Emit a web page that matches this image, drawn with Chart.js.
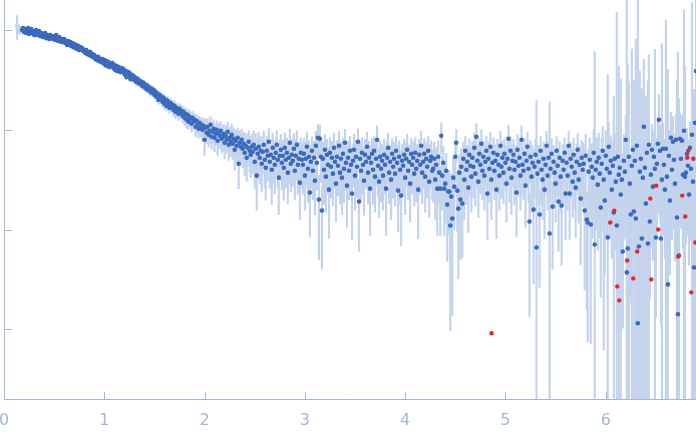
<!DOCTYPE html>
<html>
<head>
<meta charset="utf-8">
<script src="https://cdn.jsdelivr.net/npm/chart.js@4.4.1/dist/chart.umd.min.js"></script>
<style>
html,body{margin:0;padding:0;background:#fff;}
#wrap{width:696px;height:437px;}
</style>
</head>
<body>
<div id="wrap"><canvas id="c" width="696" height="437"></canvas></div>
<script>
// scattering vector q
const q = [
0.18,0.19,0.20,0.21,0.22,0.23,0.24,0.25,0.26,0.27,
0.28,0.29,0.30,0.31,0.32,0.33,0.34,0.35,0.36,0.37,
0.38,0.39,0.40,0.41,0.42,0.43,0.44,0.45,0.46,0.47,
0.48,0.49,0.50,0.51,0.52,0.53,0.54,0.55,0.56,0.57,
0.58,0.59,0.60,0.61,0.62,0.63,0.64,0.65,0.66,0.67,
0.68,0.69,0.70,0.71,0.72,0.73,0.74,0.75,0.76,0.77,
0.78,0.79,0.80,0.81,0.82,0.83,0.84,0.85,0.86,0.87,
0.88,0.89,0.90,0.91,0.92,0.93,0.94,0.95,0.96,0.97,
0.98,0.99,1.00,1.01,1.02,1.03,1.04,1.05,1.06,1.07,
1.08,1.09,1.10,1.11,1.12,1.13,1.14,1.15,1.16,1.17,
1.18,1.19,1.20,1.21,1.22,1.23,1.24,1.25,1.26,1.27,
1.28,1.29,1.30,1.31,1.32,1.33,1.34,1.35,1.36,1.37,
1.38,1.39,1.40,1.41,1.42,1.43,1.44,1.45,1.46,1.47,
1.48,1.49,1.50,1.51,1.52,1.53,1.54,1.55,1.56,1.57,
1.58,1.59,1.60,1.61,1.62,1.63,1.64,1.65,1.66,1.67,
1.68,1.69,1.70,1.71,1.72,1.73,1.74,1.75,1.76,1.77,
1.78,1.79,1.80,1.81,1.82,1.83,1.84,1.85,1.86,1.87,
1.88,1.89,1.90,1.91,1.92,1.93,1.94,1.95,1.96,1.97,
1.98,1.99,2.00,2.01,2.02,2.03,2.04,2.05,2.06,2.07,
2.08,2.09,2.10,2.11,2.12,2.13,2.14,2.15,2.16,2.17,
2.18,2.19,2.20,2.21,2.22,2.23,2.24,2.25,2.26,2.27,
2.28,2.29,2.30,2.31,2.32,2.33,2.34,2.35,2.36,2.37,
2.38,2.39,2.40,2.41,2.42,2.43,2.44,2.45,2.46,2.47,
2.48,2.49,2.50,2.51,2.52,2.53,2.54,2.55,2.56,2.57,
2.58,2.59,2.60,2.61,2.62,2.63,2.64,2.65,2.66,2.67,
2.68,2.69,2.70,2.71,2.72,2.73,2.74,2.75,2.76,2.77,
2.78,2.79,2.80,2.81,2.82,2.83,2.84,2.85,2.86,2.87,
2.88,2.89,2.90,2.91,2.92,2.93,2.94,2.95,2.96,2.97,
2.98,2.99,3.00,3.01,3.02,3.03,3.04,3.05,3.06,3.07,
3.08,3.09,3.10,3.11,3.12,3.13,3.14,3.15,3.16,3.17,
3.18,3.19,3.20,3.21,3.22,3.23,3.24,3.25,3.26,3.27,
3.28,3.29,3.30,3.31,3.32,3.33,3.34,3.35,3.36,3.37,
3.38,3.39,3.40,3.41,3.42,3.43,3.44,3.45,3.46,3.47,
3.48,3.49,3.50,3.51,3.52,3.53,3.54,3.55,3.56,3.57,
3.58,3.59,3.60,3.61,3.62,3.63,3.64,3.65,3.66,3.67,
3.68,3.69,3.70,3.71,3.72,3.73,3.74,3.75,3.76,3.77,
3.78,3.79,3.80,3.81,3.82,3.83,3.84,3.85,3.86,3.87,
3.88,3.89,3.90,3.91,3.92,3.93,3.94,3.95,3.96,3.97,
3.98,3.99,4.00,4.01,4.02,4.03,4.04,4.05,4.06,4.07,
4.08,4.09,4.10,4.11,4.12,4.13,4.14,4.15,4.16,4.17,
4.18,4.19,4.20,4.21,4.22,4.23,4.24,4.25,4.26,4.27,
4.28,4.29,4.30,4.31,4.32,4.33,4.34,4.35,4.36,4.37,
4.38,4.39,4.40,4.41,4.42,4.43,4.44,4.45,4.46,4.47,
4.48,4.49,4.50,4.51,4.52,4.53,4.54,4.55,4.56,4.57,
4.58,4.59,4.60,4.61,4.62,4.63,4.64,4.65,4.66,4.67,
4.68,4.69,4.70,4.71,4.72,4.73,4.74,4.75,4.76,4.77,
4.78,4.79,4.80,4.81,4.82,4.83,4.84,4.85,4.86,4.87,
4.88,4.89,4.90,4.91,4.92,4.93,4.94,4.95,4.96,4.97,
4.98,4.99,5.00,5.01,5.02,5.03,5.04,5.05,5.06,5.07,
5.08,5.09,5.10,5.11,5.12,5.13,5.14,5.15,5.16,5.17,
5.18,5.19,5.20,5.21,5.22,5.23,5.24,5.25,5.26,5.27,
5.28,5.29,5.30,5.31,5.32,5.33,5.34,5.35,5.36,5.37,
5.38,5.39,5.40,5.41,5.42,5.43,5.44,5.45,5.46,5.47,
5.48,5.49,5.50,5.51,5.52,5.53,5.54,5.55,5.56,5.57,
5.58,5.59,5.60,5.61,5.62,5.63,5.64,5.65,5.66,5.67,
5.68,5.69,5.70,5.71,5.72,5.73,5.74,5.75,5.76,5.77,
5.78,5.79,5.80,5.81,5.82,5.83,5.84,5.85,5.86,5.87,
5.88,5.89,5.90,5.91,5.92,5.93,5.94,5.95,5.96,5.97,
5.98,5.99,6.00,6.01,6.02,6.03,6.04,6.05,6.06,6.07,
6.08,6.09,6.10,6.11,6.12,6.13,6.14,6.15,6.16,6.17,
6.18,6.19,6.20,6.21,6.22,6.23,6.24,6.25,6.26,6.27,
6.28,6.29,6.30,6.31,6.32,6.33,6.34,6.35,6.36,6.37,
6.38,6.39,6.40,6.41,6.42,6.43,6.44,6.45,6.46,6.47,
6.48,6.49,6.50,6.51,6.52,6.53,6.54,6.55,6.56,6.57,
6.58,6.59,6.60,6.61,6.62,6.63,6.64,6.65,6.66,6.67,
6.68,6.69,6.70,6.71,6.72,6.73,6.74,6.75,6.76,6.77,
6.78,6.79,6.80,6.81,6.82,6.83,6.84,6.85,6.86,6.87,
6.88,6.89,6.90
];

// log10 of scattered intensity
const logIntensity = [
2.00,2.02,1.98,2.01,1.97,2.00,2.02,1.96,1.99,2.01,
1.97,1.99,1.95,1.98,2.00,1.95,1.97,1.99,1.94,1.97,
1.96,1.93,1.95,1.97,1.92,1.95,1.93,1.91,1.95,1.92,
1.94,1.91,1.93,1.90,1.95,1.92,1.89,1.93,1.91,1.88,
1.91,1.88,1.91,1.87,1.89,1.85,1.89,1.86,1.88,1.84,
1.87,1.83,1.86,1.82,1.85,1.81,1.84,1.80,1.83,1.81,
1.82,1.79,1.80,1.77,1.80,1.76,1.78,1.75,1.78,1.74,
1.76,1.73,1.75,1.71,1.73,1.70,1.73,1.69,1.71,1.68,
1.71,1.67,1.70,1.65,1.69,1.64,1.68,1.63,1.66,1.65,
1.67,1.62,1.65,1.60,1.64,1.59,1.63,1.61,1.58,1.62,
1.59,1.61,1.56,1.59,1.53,1.58,1.54,1.57,1.51,1.55,
1.51,1.54,1.50,1.52,1.48,1.51,1.47,1.49,1.46,1.48,
1.44,1.47,1.43,1.45,1.41,1.44,1.40,1.42,1.38,1.41,
1.37,1.40,1.35,1.38,1.33,1.36,1.30,1.35,1.31,1.33,
1.28,1.32,1.26,1.30,1.24,1.29,1.25,1.22,1.27,1.23,
1.25,1.20,1.24,1.18,1.22,1.19,1.16,1.21,1.17,1.19,
1.14,1.18,1.12,1.16,1.10,1.15,1.08,1.13,1.11,1.06,
1.12,1.08,1.10,1.03,1.09,1.05,1.01,1.07,1.02,1.05,
1.00,1.04,0.90,1.02,0.97,1.03,0.95,0.99,1.05,0.93,
0.98,1.01,0.92,0.96,1.00,0.89,0.97,0.94,0.99,0.91,
0.93,0.96,0.87,0.94,0.90,0.98,0.85,0.92,0.88,0.95,
0.86,0.91,0.80,0.89,0.84,0.92,0.66,0.87,0.83,0.90,
0.81,0.86,0.77,0.84,0.72,0.82,0.88,0.79,0.75,0.83,
0.78,0.85,0.68,0.81,0.54,0.76,0.83,0.72,0.79,0.66,
0.78,0.85,0.70,0.62,0.79,0.74,0.88,0.68,0.75,0.60,
0.82,0.72,0.65,0.77,0.85,0.70,0.52,0.74,0.80,0.67,
0.74,0.62,0.82,0.70,0.77,0.57,0.72,0.87,0.66,0.75,
0.69,0.81,0.59,0.74,0.85,0.65,0.71,0.47,0.77,0.70,
0.65,0.76,0.54,0.71,0.83,0.61,0.73,0.37,0.68,0.79,
0.59,0.72,0.49,0.84,0.67,0.92,0.30,0.91,0.73,0.19,
0.71,0.60,0.80,0.53,0.75,0.65,0.40,0.77,0.63,0.72,
0.56,0.82,0.68,0.46,0.73,0.64,0.84,0.57,0.71,0.52,
0.76,0.61,0.87,0.67,0.44,0.72,0.59,0.79,0.65,0.36,
0.69,0.80,0.54,0.73,0.63,0.88,0.28,0.71,0.59,0.77,
0.65,0.49,0.75,0.68,0.83,0.57,0.72,0.41,0.67,0.76,
0.60,0.79,0.53,0.71,0.90,0.64,0.48,0.73,0.61,0.69,
0.54,0.75,0.65,0.41,0.72,0.82,0.57,0.68,0.50,0.76,
0.63,0.71,0.56,0.79,0.67,0.39,0.73,0.60,0.34,0.69,
0.64,0.75,0.52,0.71,0.80,0.59,0.68,0.46,0.76,0.65,
0.72,0.56,0.77,0.61,0.69,0.40,0.75,0.65,0.84,0.57,
0.68,0.76,0.53,0.71,0.63,0.79,0.48,0.69,0.73,0.59,
0.61,0.71,0.50,0.65,0.41,0.73,0.57,0.41,0.94,0.54,
0.67,0.41,0.46,0.59,0.25,0.38,0.38,0.04,0.33,0.11,
0.52,0.43,0.73,0.87,0.39,0.21,0.57,0.30,0.63,0.26,
0.71,0.50,0.79,0.60,0.68,0.42,0.75,0.64,0.53,0.72,
0.63,0.82,0.56,0.93,0.69,0.48,0.76,0.65,0.86,0.59,
0.73,0.54,0.68,0.79,0.36,0.71,0.61,0.83,0.50,0.67,
0.77,0.59,0.69,0.40,0.75,0.65,0.54,0.84,0.63,0.72,
0.57,0.76,0.67,0.46,0.71,0.91,0.61,0.79,0.52,0.69,
0.75,0.60,0.68,0.37,0.80,0.64,0.72,0.54,0.90,0.65,
0.59,0.76,0.44,0.69,0.83,0.61,0.08,0.73,0.53,0.67,
0.20,0.63,0.75,-0.18,0.56,0.68,0.15,0.79,0.60,0.50,
0.71,0.40,0.65,0.84,0.54,0.72,-0.04,0.61,0.76,0.23,
0.68,0.57,0.46,0.79,0.64,0.28,0.72,0.53,0.24,0.69,
0.60,0.77,0.36,0.67,0.54,0.84,0.36,0.71,0.63,0.48,
0.75,0.57,0.42,0.68,0.80,0.50,0.65,0.31,0.72,0.60,
0.66,0.19,0.74,0.10,0.07,0.58,0.70,0.05,0.63,0.52,
0.77,-0.15,0.60,0.68,0.45,0.72,0.56,0.22,0.66,0.79,
0.50,0.29,0.74,0.61,-0.08,0.83,0.57,0.69,0.40,0.64,
0.17,0.71,0.48,0.04,0.73,0.55,0.62,0.35,0.50,-0.22,
0.69,0.58,0.90,-0.43,-0.19,0.73,0.46,0.15,0.64,0.80,
0.18,0.69,0.11,0.84,-0.94,-0.17,0.58,0.71,-0.09,0.52,
1.03,0.62,0.26,0.77,-0.14,0.85,0.08,0.55,0.80,0.43,
0.73,0.61,-0.08,0.66,0.86,1.10,0.79,-0.09,0.50,0.81,
0.65,0.40,0.81,0.53,-0.55,0.74,0.29,0.92,0.60,0.88,
0.70,0.46,0.90,0.12,-0.85,-0.26,0.91,0.71,0.89,0.55,
0.99,0.53,0.57,0.76,0.64,0.35,0.82,0.61,0.95,0.48,
-0.38,1.07,1.59
];

// absolute intensity uncertainty of every point
const sigma = [
4.2,3.9,4.1,4.0,3.8,4.1,4.0,3.9,4.2,4.0,
4.0,4.1,3.9,4.2,4.0,3.8,4.1,4.0,3.9,4.1,
3.9,4.0,4.2,3.9,4.1,4.0,3.8,4.0,4.1,3.9,
3.1,2.9,3.0,3.2,2.8,3.0,3.1,2.9,3.0,3.0,
2.9,3.1,3.0,2.8,3.2,3.0,2.9,3.1,3.0,2.9,
3.0,3.2,2.9,3.0,3.1,2.8,3.0,3.1,2.9,3.0,
3.1,2.9,3.0,3.0,2.8,3.1,3.0,2.9,3.2,3.0,
2.9,3.0,3.1,2.9,3.0,3.0,2.8,3.1,3.0,2.9,
2.3,2.1,2.2,2.4,2.0,2.2,2.3,2.1,2.2,2.2,
2.2,2.3,2.1,2.2,2.4,2.2,2.0,2.3,2.2,2.1,
2.1,2.2,2.3,2.0,2.2,2.4,2.1,2.2,2.3,2.2,
2.3,2.2,2.1,2.2,2.3,2.0,2.2,2.4,2.1,2.2,
2.2,2.0,2.3,2.2,2.1,2.2,2.4,2.2,2.1,2.3,
2.0,2.1,1.9,2.0,2.2,1.9,2.0,2.1,1.9,2.0,
2.1,2.0,2.2,1.9,2.0,2.1,2.0,1.9,2.2,2.0,
1.9,2.1,2.0,2.2,1.9,2.0,2.1,2.0,1.9,2.1,
2.0,1.9,2.1,2.0,2.2,2.0,1.9,2.1,2.0,2.0,
2.1,2.0,1.9,2.2,2.0,2.1,2.0,1.9,2.1,2.0,
2.3,2.2,2.4,2.3,2.1,2.3,2.2,2.4,2.3,2.1,
2.2,2.4,2.3,2.1,2.3,2.2,2.4,2.2,2.3,2.3,
2.4,2.2,2.3,2.3,2.1,2.4,2.2,2.3,2.2,2.4,
2.2,2.3,2.4,2.2,2.3,2.1,2.0,2.3,2.4,2.2,
2.3,2.2,2.4,2.3,2.2,2.3,2.2,2.4,2.3,2.2,
2.4,2.7,2.2,2.7,1.9,2.4,2.7,2.4,2.4,2.2,
2.4,2.7,2.4,2.2,2.4,2.4,2.7,2.2,2.4,2.2,
2.7,2.4,2.2,2.4,2.7,2.4,1.9,2.4,2.7,2.2,
2.4,2.2,2.7,2.4,2.4,1.9,2.4,2.7,2.2,2.4,
2.2,2.7,1.9,2.4,2.7,2.2,2.4,1.7,2.4,2.4,
2.2,2.4,1.9,2.4,2.7,2.2,2.4,1.5,2.2,2.4,
1.9,2.4,1.7,2.7,2.2,3.0,1.5,3.0,2.4,1.15,
2.4,2.2,2.7,1.9,2.4,2.2,1.7,2.4,2.2,2.4,
1.9,2.7,2.2,1.7,2.4,2.2,2.7,1.9,2.4,1.9,
2.4,2.2,2.7,2.2,1.7,2.4,1.9,2.4,2.2,1.5,
2.2,2.7,1.9,2.4,2.2,2.7,1.3,2.4,1.9,2.4,
2.2,1.7,2.4,2.2,2.7,1.9,2.4,1.7,2.2,2.4,
2.2,2.4,1.9,2.4,3.0,2.2,1.7,2.4,2.2,2.2,
1.9,2.4,2.2,1.7,2.4,2.7,1.9,2.2,1.9,2.4,
2.2,2.4,1.9,2.4,2.2,1.5,2.4,2.2,1.5,2.2,
2.2,2.4,1.9,2.4,2.7,1.9,2.2,1.7,2.4,2.2,
2.4,1.9,2.4,2.2,2.2,1.7,2.4,2.2,2.7,1.9,
2.2,2.4,1.9,2.4,2.2,2.4,1.7,2.2,2.4,1.9,
2.2,2.4,1.9,2.2,1.7,2.4,1.9,1.7,3.0,1.9,
2.2,1.7,1.7,1.9,1.3,1.5,1.5,1.0,1.5,1.15,
1.9,1.7,2.4,2.7,1.5,1.3,1.9,1.5,2.2,1.3,
2.4,1.9,2.4,2.2,2.2,1.7,2.4,2.2,1.9,2.4,
2.2,2.7,1.9,3.0,2.2,1.7,2.4,2.2,2.7,1.9,
2.4,1.9,2.2,2.4,1.5,2.4,2.2,2.7,1.9,2.2,
2.4,1.9,2.2,1.7,2.4,2.2,1.9,2.7,2.2,2.4,
1.9,2.4,2.2,1.7,2.4,3.0,2.2,2.4,1.9,2.2,
2.4,2.2,2.2,1.5,2.7,2.2,2.4,1.9,3.0,2.2,
1.9,2.4,1.7,2.2,2.7,2.2,1.07,2.4,1.9,2.2,
1.3,2.2,2.4,19,1.9,2.2,1.15,2.4,2.2,1.9,
2.4,1.7,2.2,2.7,1.9,2.4,18,2.2,2.4,1.3,
2.2,1.9,1.7,2.4,2.2,1.3,2.4,1.9,1.3,2.2,
2.2,2.4,1.5,2.2,1.9,2.7,1.5,2.4,2.2,1.7,
2.6,2.1,1.8,2.4,2.8,2.0,2.4,1.6,2.6,2.3,
2.8,1.3,3.5,1.1,1.1,2.6,3.3,1.05,3.0,2.5,
4.0,60,3.0,3.6,2.2,4.0,2.8,1.45,3.6,4.6,
3.1,1.6,4.2,3.2,35,5.0,2.9,3.8,2.0,3.4,
20,4.0,2.4,150,4.3,40,3.3,30,2.6,0.5,
4.0,3.0,6.0,200,45,25,2.7,1.2,60,5.0,
30,3.9,80,5.5,200,0.55,35,4.0,25,2.7,
40,3.4,20,4.6,30,50,1.0,2.9,5.0,2.2,
4.3,60,0.7,3.7,5.8,10,4.9,0.7,70,5.2,
3.6,2.0,120,2.8,40,4.4,1.6,6.6,3.2,6.0,
4.0,2.4,6.3,30,60,20,6.5,4.1,6.2,2.9,
150,40,3.0,4.6,3.5,1.8,5.3,3.3,180,2.4,
25,9,200
];

// low-q points excluded from the fit (drawn faintly)
const maskedQ = [0.13,0.14,0.15,0.16,0.17];
const maskedLogIntensity = [2.04,2.00,2.01,1.99,2.01];
const maskedSigma = [30,9,8,7,6];

// outlier points (red)
const outlierQ = [4.862,6.045,6.085,6.115,6.135,6.214,6.274,6.314,6.444,6.454,6.503,6.523,6.723,6.763,6.793,6.813,6.823,6.853,6.873,6.893];
const outlierLogIntensity = [-1.04,0.07,0.19,-0.57,-0.71,-0.31,-0.49,-0.22,0.31,-0.50,0.44,0.00,-0.27,0.34,0.13,0.72,0.79,-0.63,0.71,-0.13];

const xTicks = [0,1,2,3,4,5,6];
const yTicks = [0.1,1,10,100];

const AXIS = '#a2b5e0';
const BAR = '#c4d3ec';
const DOT = '#3b6abd';
const RED = '#e8262b';

const toI = v => Math.pow(10, v);
const FLOOR = 1e-4;

const pts = q.map((x,i)=>({x:x, y:toI(logIntensity[i])}));
const bars = q.map((x,i)=>{const I=toI(logIntensity[i]); return {x:x, y:[Math.max(I-sigma[i],FLOOR), I+sigma[i]]};});
const mPts = maskedQ.map((x,i)=>({x:x, y:toI(maskedLogIntensity[i])}));
const mBars = maskedQ.map((x,i)=>{const I=toI(maskedLogIntensity[i]); return {x:x, y:[Math.max(I-maskedSigma[i],FLOOR), I+maskedSigma[i]]};});
const oPts = outlierQ.map((x,i)=>({x:x, y:toI(outlierLogIntensity[i])}));

const innerTicks = {
  id:'innerTicks',
  afterDraw(chart){
    const {ctx, chartArea, scales} = chart;
    const xs = scales.x, ys = scales.y;
    ctx.save();
    ctx.strokeStyle = AXIS;
    ctx.lineWidth = 1;
    xs.ticks.forEach(t=>{
      const px = Math.round(xs.getPixelForValue(t.value))+0.5;
      ctx.beginPath(); ctx.moveTo(px, chartArea.bottom); ctx.lineTo(px, chartArea.bottom-7); ctx.stroke();
    });
    ys.ticks.forEach(t=>{
      const py = Math.round(ys.getPixelForValue(t.value))+0.5;
      ctx.beginPath(); ctx.moveTo(chartArea.left, py); ctx.lineTo(chartArea.left+8, py); ctx.stroke();
    });
    ctx.restore();
  }
};

function noPad(s){ s.paddingLeft=0; s.paddingRight=0; s.paddingTop=0; s.paddingBottom=0; }

new Chart(document.getElementById('c'), {
  type:'scatter',
  data:{
    datasets:[
      {type:'scatter', label:'outliers', data:oPts, backgroundColor:RED, borderWidth:0, pointRadius:2.2, order:0},
      {type:'scatter', label:'I(q)', data:pts, backgroundColor:DOT, borderWidth:0, pointRadius:2.3, order:1},
      {type:'scatter', label:'masked', data:mPts, backgroundColor:BAR, borderWidth:0, pointRadius:2.3, order:2},
      {type:'bar', label:'error', data:bars, backgroundColor:BAR, borderWidth:0, barThickness:1.5, grouped:false, order:3},
      {type:'bar', label:'error masked', data:mBars, backgroundColor:BAR, borderWidth:0, barThickness:1.5, grouped:false, order:4}
    ]
  },
  options:{
    responsive:false,
    animation:false,
    layout:{padding:0, autoPadding:false},
    plugins:{legend:{display:false}, tooltip:{enabled:false}},
    scales:{
      x:{
        type:'linear', min:0, max:6.9, offset:false,
        afterBuildTicks:s=>{s.ticks = xTicks.map(v=>({value:v}));},
        afterFit:s=>{s.height = 38; noPad(s);},
        grid:{display:false, drawTicks:false},
        border:{display:true, color:AXIS, width:1},
        ticks:{color:AXIS, font:{family:'DejaVu Sans', size:16}, padding:12, maxRotation:0, autoSkip:false}
      },
      y:{
        type:'logarithmic', min:0.02, max:200,
        afterBuildTicks:s=>{s.ticks = yTicks.map(v=>({value:v}));},
        afterFit:s=>{s.width = 4; noPad(s);},
        grid:{display:false, drawTicks:false},
        border:{display:true, color:AXIS, width:1},
        ticks:{display:false}
      }
    }
  },
  plugins:[innerTicks]
});
</script>
</body>
</html>
